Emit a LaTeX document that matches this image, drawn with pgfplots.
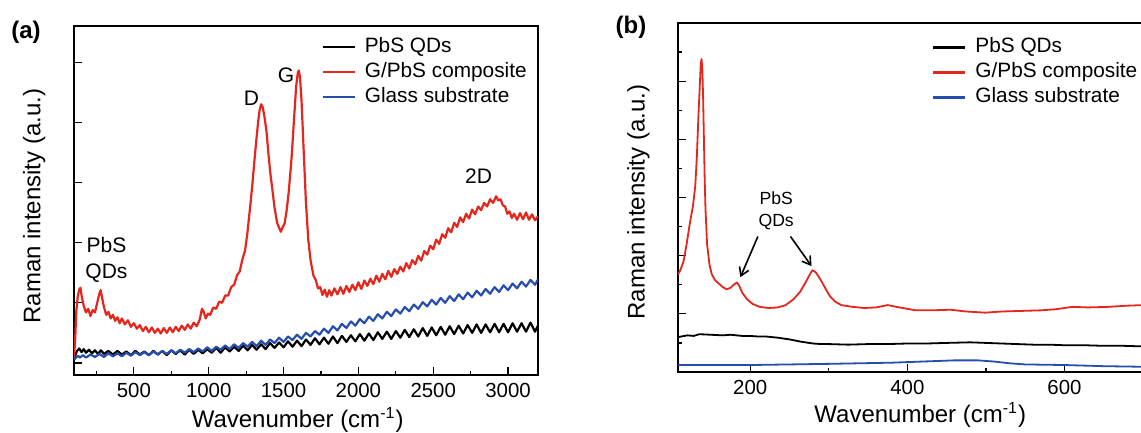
\documentclass[border=0pt]{standalone}
\usepackage{pgfplots}
\pgfplotsset{compat=1.18}
\usepackage{fontspec}
\setmainfont{Liberation Sans}
\usetikzlibrary{arrows.meta}
\definecolor{myred}{RGB}{228,38,28}
\definecolor{myblue}{RGB}{38,78,170}

\pgfplotsset{
  panel/.style={
    scale only axis,
    anchor=south west,
    axis line style={line width=0.7pt},
    tick align=inside,
    xtick pos=left, ytick pos=left,
    major tick length=3.8pt,
    minor tick length=2pt,
    tick style={line width=0.6pt, black},
    yticklabel=\empty,
    /pgf/number format/assume math mode=true,
    /pgf/number format/1000 sep={},
    xticklabel style={font=\fontsize{10.2}{12}\selectfont, yshift=-0.5pt},
    label style={font=\fontsize{12}{14}\selectfont},
    legend cell align=left,
    legend image code/.code={\draw[#1, line width=1.3pt] (0pt,0pt) -- (16pt,0pt);},
    every axis plot/.append style={line join=round},
  }
}

\begin{document}
\begin{tikzpicture}
\useasboundingbox (0pt,0pt) rectangle (570.5pt,216.5pt);

% ---------------- panel (a) ----------------
\begin{axis}[panel,
  at={(37pt,29pt)},
  width=232pt, height=174.5pt,
  xmin=100, xmax=3200, ymin=-0.2, ymax=5.6,
  xtick={500,1000,1500,2000,2500,3000},
  minor xtick={250,750,1250,1750,2250,2750},
  ytick={0,1,2,3,4,5},
  xlabel={Wavenumber (cm\textsuperscript{-1})},
  ylabel={Raman intensity (a.u.)},
  xlabel style={at={(axis description cs:0.482,-0.129)}, anchor=center},
  ylabel style={at={(axis description cs:-0.086,0.484)}, anchor=center},
  legend style={at={(rel axis cs:0.532,0.977)}, anchor=north west, draw=none, fill=none,
    inner sep=0pt, font=\fontsize{10.4}{12}\selectfont, row sep=0pt,
    nodes={inner sep=1.5pt, text height=7.5pt, text depth=2pt}, column sep=3pt},
]
\addplot[black, line width=1.1pt] coordinates {
(100,0.08) (110,0.14) (120,0.20) (135,0.24) (150,0.18) (165,0.23) (180,0.17) (200,0.22) (220,0.16) (240,0.21) (260,0.15) (280,0.21) (300,0.15) (330,0.20) (360,0.14) (390,0.20) (420,0.14) (450,0.19) (480,0.13) (510,0.20) (540,0.14) (570,0.19) (600,0.13) (630,0.20) (660,0.14) (690,0.20) (720,0.13) (750,0.21) (780,0.15) (810,0.21) (840,0.14) (870,0.22) (900,0.15) (930,0.22) (960,0.16) (990,0.23) (1020,0.17) (1050,0.25) (1080,0.17) (1110,0.26) (1140,0.19) (1170,0.27) (1200,0.20) (1230,0.29) (1260,0.21) (1290,0.30) (1320,0.22) (1350,0.31) (1380,0.23) (1410,0.33) (1440,0.25) (1470,0.34) (1500,0.26) (1530,0.36) (1560,0.27) (1590,0.37) (1620,0.28) (1650,0.39) (1680,0.30) (1710,0.41) (1740,0.31) (1770,0.42) (1800,0.32) (1830,0.44) (1860,0.33) (1890,0.45) (1920,0.35) (1950,0.46) (1980,0.36) (2010,0.48) (2040,0.37) (2070,0.49) (2100,0.38) (2130,0.51) (2160,0.40) (2190,0.52) (2220,0.40) (2250,0.53) (2280,0.42) (2310,0.55) (2340,0.43) (2370,0.56) (2400,0.44) (2430,0.58) (2460,0.45) (2490,0.59) (2520,0.46) (2550,0.60) (2580,0.47) (2610,0.61) (2640,0.48) (2670,0.62) (2700,0.49) (2730,0.63) (2760,0.50) (2790,0.64) (2820,0.50) (2850,0.64) (2880,0.51) (2910,0.65) (2940,0.51) (2970,0.65) (3000,0.51) (3030,0.66) (3060,0.52) (3090,0.66) (3120,0.52) (3150,0.67) (3180,0.52) (3200,0.62)
};
\addlegendentry{PbS QDs}
\addplot[myred, line width=1.1pt] coordinates {
(100,0.09) (108,0.40) (115,0.85) (125,1.10) (135,1.22) (143,1.25) (152,1.10) (165,0.95) (180,0.84) (195,0.90) (210,0.78) (225,0.88) (240,0.84) (255,1.00) (268,1.14) (278,1.21) (288,1.08) (300,0.93) (315,0.80) (330,0.85) (345,0.74) (360,0.80) (375,0.70) (390,0.76) (405,0.66) (420,0.74) (440,0.64) (460,0.71) (480,0.60) (500,0.66) (520,0.57) (540,0.63) (560,0.53) (580,0.60) (600,0.51) (620,0.59) (640,0.50) (660,0.57) (680,0.49) (700,0.58) (720,0.50) (740,0.59) (760,0.51) (780,0.60) (800,0.53) (820,0.62) (840,0.55) (860,0.64) (880,0.57) (900,0.67) (920,0.61) (940,0.72) (955,0.90) (965,0.86) (980,0.74) (995,0.82) (1010,0.80) (1030,0.92) (1050,0.90) (1070,1.02) (1090,1.00) (1110,1.12) (1130,1.12) (1150,1.26) (1170,1.30) (1190,1.46) (1207,1.52) (1225,1.72) (1243,1.87) (1258,2.15) (1275,2.55) (1290,2.92) (1305,3.35) (1318,3.70) (1330,4.00) (1340,4.20) (1350,4.30) (1360,4.26) (1372,4.10) (1386,3.85) (1400,3.45) (1412,3.15) (1423,2.93) (1440,2.58) (1457,2.33) (1470,2.25) (1482,2.18) (1495,2.26) (1507,2.32) (1520,2.52) (1535,2.85) (1554,3.42) (1570,4.05) (1584,4.59) (1595,4.82) (1602,4.86) (1610,4.75) (1620,4.37) (1635,3.50) (1649,2.70) (1665,2.05) (1681,1.70) (1700,1.45) (1715,1.38) (1730,1.24) (1745,1.26) (1760,1.13) (1775,1.22) (1790,1.10) (1805,1.21) (1820,1.12) (1840,1.24) (1860,1.14) (1880,1.26) (1900,1.15) (1920,1.28) (1940,1.18) (1960,1.30) (1980,1.21) (2000,1.34) (2020,1.23) (2040,1.37) (2060,1.28) (2080,1.40) (2100,1.31) (2120,1.45) (2140,1.35) (2160,1.48) (2180,1.39) (2200,1.53) (2220,1.43) (2240,1.56) (2260,1.48) (2280,1.60) (2300,1.52) (2320,1.66) (2340,1.57) (2360,1.71) (2380,1.64) (2400,1.78) (2420,1.70) (2440,1.86) (2460,1.80) (2480,1.95) (2500,1.89) (2520,2.05) (2540,1.98) (2560,2.14) (2580,2.08) (2600,2.24) (2620,2.17) (2640,2.33) (2660,2.26) (2680,2.42) (2700,2.34) (2720,2.48) (2740,2.40) (2760,2.55) (2780,2.47) (2800,2.60) (2820,2.54) (2840,2.66) (2860,2.60) (2880,2.72) (2900,2.66) (2920,2.77) (2935,2.70) (2950,2.72) (2965,2.62) (2980,2.60) (2995,2.48) (3010,2.52) (3025,2.41) (3040,2.48) (3060,2.38) (3080,2.49) (3100,2.39) (3120,2.50) (3140,2.38) (3160,2.47) (3180,2.37) (3200,2.44)
};
\addlegendentry{G/PbS composite}
\addplot[myblue, line width=1.1pt] coordinates {
(100,0.05) (110,0.08) (125,0.12) (140,0.09) (160,0.13) (180,0.09) (210,0.14) (240,0.10) (270,0.15) (300,0.10) (330,0.16) (360,0.11) (390,0.16) (420,0.11) (450,0.17) (480,0.12) (510,0.18) (540,0.13) (570,0.18) (600,0.13) (630,0.19) (660,0.14) (690,0.20) (720,0.15) (750,0.21) (780,0.16) (810,0.22) (840,0.17) (870,0.23) (900,0.18) (930,0.24) (960,0.19) (990,0.26) (1020,0.20) (1050,0.27) (1080,0.22) (1110,0.29) (1140,0.23) (1170,0.31) (1200,0.25) (1230,0.33) (1260,0.27) (1290,0.35) (1320,0.28) (1350,0.37) (1380,0.30) (1410,0.39) (1440,0.33) (1470,0.42) (1500,0.35) (1530,0.44) (1560,0.38) (1590,0.47) (1620,0.40) (1650,0.50) (1680,0.44) (1710,0.53) (1740,0.47) (1770,0.57) (1800,0.50) (1830,0.61) (1860,0.54) (1890,0.65) (1920,0.58) (1950,0.69) (1980,0.62) (2010,0.73) (2040,0.66) (2070,0.77) (2100,0.70) (2130,0.81) (2160,0.74) (2190,0.85) (2220,0.78) (2250,0.89) (2280,0.82) (2310,0.93) (2340,0.86) (2370,0.97) (2400,0.90) (2430,1.01) (2460,0.94) (2490,1.05) (2520,0.97) (2550,1.08) (2580,1.00) (2610,1.11) (2640,1.03) (2670,1.14) (2700,1.06) (2730,1.17) (2760,1.09) (2790,1.20) (2820,1.12) (2850,1.23) (2880,1.15) (2910,1.26) (2940,1.18) (2970,1.29) (3000,1.21) (3030,1.32) (3060,1.24) (3090,1.35) (3120,1.27) (3150,1.38) (3180,1.30) (3200,1.39)
};
\addlegendentry{Glass substrate}
\node[font=\fontsize{10.5}{13}\selectfont, align=center] at (axis cs:317,1.72) {PbS\\QDs};
\node[font=\fontsize{10.5}{13}\selectfont] at (axis cs:1286,4.40) {D};
\node[font=\fontsize{10.5}{13}\selectfont] at (axis cs:1516,4.78) {G};
\node[font=\fontsize{10.5}{13}\selectfont] at (axis cs:2803,3.10) {2D};
\end{axis}

% ---------------- panel (b) ----------------
\begin{axis}[panel,
  at={(339pt,30.5pt)},
  width=232.5pt, height=174.5pt,
  xmin=108, xmax=700, ymin=0, ymax=6,
  xtick={200,400,600},
  minor xtick={300,500},
  ytick={1,2,3,4,5},
  minor ytick={0.5,1.5,2.5,3.5,4.5,5.5},
  xlabel={Wavenumber (cm\textsuperscript{-1})},
  ylabel={Raman intensity (a.u.)},
  xlabel style={at={(axis description cs:0.521,-0.123)}, anchor=center},
  ylabel style={at={(axis description cs:-0.085,0.487)}, anchor=center},
  legend style={at={(rel axis cs:0.545,0.967)}, anchor=north west, draw=none, fill=none,
    inner sep=0pt, font=\fontsize{10.4}{12}\selectfont, row sep=0pt,
    nodes={inner sep=1.5pt, text height=7.5pt, text depth=2pt}, column sep=3pt},
]
\addplot[black, line width=0.9pt] coordinates {
(108,0.60) (120,0.63) (128,0.62) (135,0.65) (150,0.64) (165,0.63) (175,0.64) (190,0.62) (200,0.62) (210,0.61) (220,0.61) (235,0.59) (250,0.56) (265,0.52) (280,0.49) (290,0.48) (300,0.48) (325,0.47) (350,0.48) (375,0.48) (400,0.49) (425,0.49) (450,0.50) (480,0.51) (500,0.50) (520,0.49) (540,0.48) (560,0.47) (580,0.47) (600,0.46) (625,0.46) (650,0.45) (675,0.45) (700,0.44)
};
\addlegendentry{PbS QDs}
\addplot[myred, line width=0.9pt] coordinates {
(108,1.68) (111,1.75) (115,1.90) (119,2.20) (123,2.55) (127,2.85) (130,3.20) (132,3.70) (134,4.40) (136,5.00) (137,5.30) (138,5.38) (139,5.20) (140,4.70) (141,4.00) (142,3.30) (143,2.80) (145,2.20) (148,1.85) (151,1.68) (155,1.58) (160,1.52) (165,1.46) (170,1.42) (175,1.45) (179,1.50) (183,1.54) (186,1.48) (190,1.36) (196,1.25) (203,1.17) (212,1.12) (223,1.10) (235,1.11) (245,1.15) (255,1.25) (263,1.37) (270,1.53) (276,1.68) (279,1.75) (283,1.72) (289,1.60) (296,1.43) (301,1.31) (308,1.21) (316,1.15) (330,1.12) (345,1.10) (360,1.11) (375,1.15) (390,1.11) (411,1.06) (430,1.06) (455,1.07) (475,1.04) (499,1.02) (520,1.04) (545,1.05) (570,1.06) (590,1.08) (610,1.12) (630,1.11) (656,1.12) (680,1.14) (700,1.15)
};
\addlegendentry{G/PbS composite}
\addplot[myblue, line width=0.9pt] coordinates {
(108,0.12) (150,0.12) (200,0.12) (250,0.13) (300,0.14) (340,0.15) (380,0.16) (420,0.18) (460,0.20) (490,0.20) (510,0.18) (530,0.15) (550,0.13) (600,0.12) (650,0.10) (700,0.09)
};
\addlegendentry{Glass substrate}
\node[font=\fontsize{8.8}{11}\selectfont, align=center] at (axis cs:233,2.78) {PbS\\QDs};
\draw[-{Straight Barb[length=4pt,width=5pt]}, line width=0.8pt] (axis cs:209.7,2.33) -- (axis cs:187.4,1.63);
\draw[-{Straight Barb[length=4pt,width=5pt]}, line width=0.8pt] (axis cs:251.2,2.33) -- (axis cs:278,1.82);
\end{axis}

\node[font=\bfseries\fontsize{12}{14}\selectfont] at (13pt,200.5pt) {(a)};
\node[font=\bfseries\fontsize{12}{14}\selectfont] at (315.5pt,202.75pt) {(b)};
\end{tikzpicture}
\end{document}
